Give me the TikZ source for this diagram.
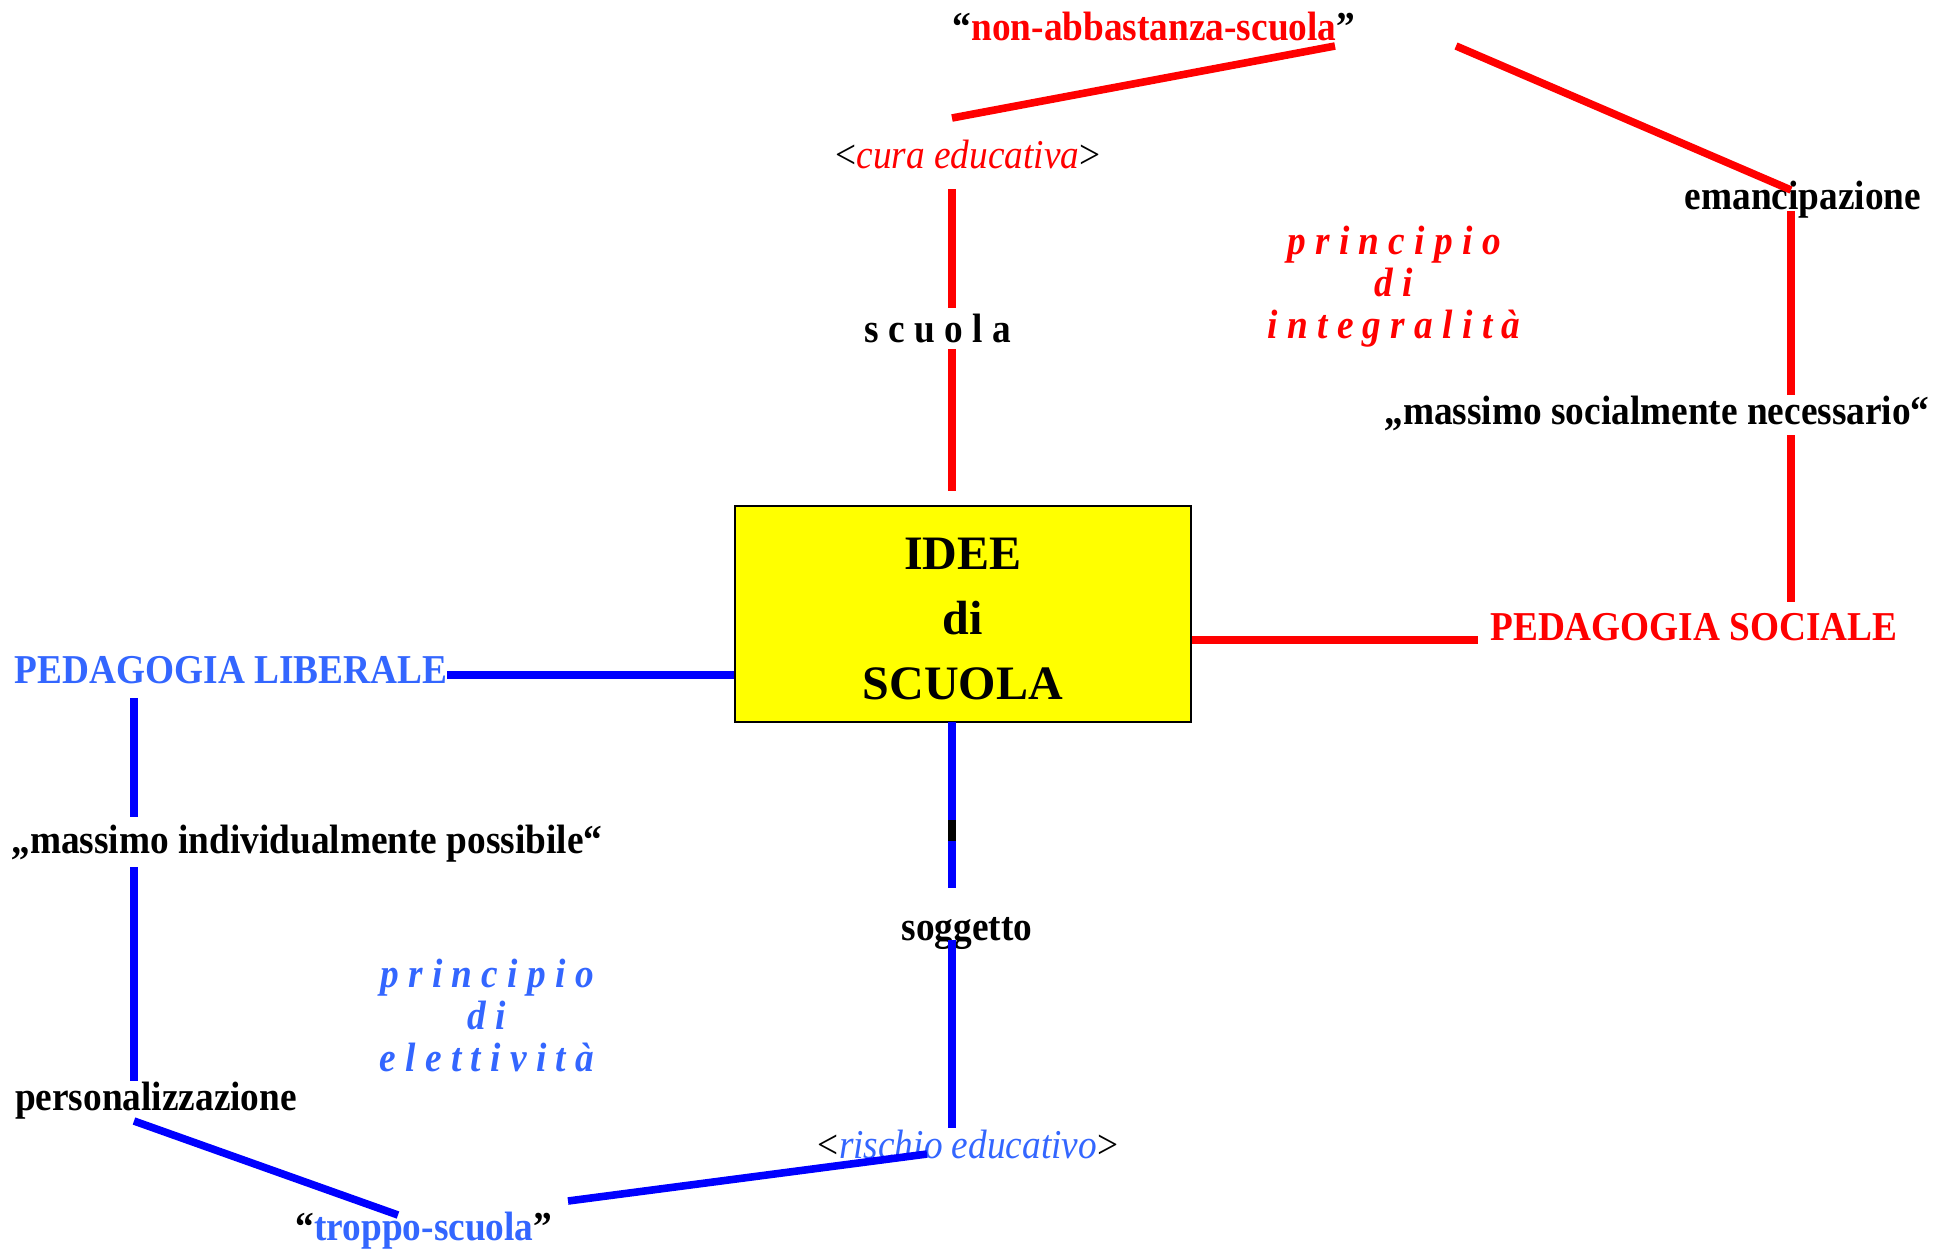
\documentclass[tikz,border=0pt]{standalone}
\usepackage{fontspec}
\setmainfont{Liberation Serif}[FakeStretch=0.91]
\newfontfamily\boxfont{Liberation Serif}
\definecolor{lblue}{RGB}{51,102,255}
\definecolor{pureyellow}{RGB}{255,255,0}
\begin{document}
\begin{tikzpicture}[x=0.5pt,y=-0.5pt,
  lbl/.style={inner sep=0pt, font=\fontsize{20.5}{24}\selectfont\bfseries},
  reglbl/.style={inner sep=0pt, font=\fontsize{20.5}{24}\selectfont},
  princ/.style={inner sep=0pt, align=center, font=\fontsize{20.5}{21}\selectfont\bfseries\itshape},
  mainbox/.style={draw=black, line width=0.8pt, fill=pureyellow, inner sep=0pt,
    minimum width=228pt, minimum height=108pt, align=center,
    font=\boxfont\fontsize{24}{32.5}\selectfont\bfseries},
  redline/.style={draw=red, line width=3.8pt},
  blueline/.style={draw=blue, line width=3.8pt}]
\useasboundingbox (0,0) rectangle (1948,1250);

% nodes
\node[lbl] (nonab) at (1154,27) {“\textcolor{red}{non-abbastanza-scuola}”};
\node[reglbl] (cura) at (968,155) {<\textcolor{red}{\itshape cura educativa}>};
\node[lbl] (scuola) at (938,329) {s c u o l a};
\node[mainbox] (box) at (963,614) {\raisebox{-3.5pt}[\height][\depth]{\begin{tabular}{@{}c@{}}IDEE\\di\\SCUOLA\end{tabular}}};
\node[lbl, text=red] (sociale) at (1694,627) {PEDAGOGIA SOCIALE};
\node[lbl] (emanc) at (1803,200) {emancipazione};
\node[lbl] (socnec) at (1657,413) {„massimo socialmente necessario“};
\node[princ, text=red] (integr) at (1394,287) {p r i n c i p i o\\d i\\i n t e g r a l i t à};
\node[lbl, text=lblue] (liberale) at (231,670) {PEDAGOGIA LIBERALE};
\node[lbl] (indpos) at (307,844) {„massimo individualmente possibile“};
\node[lbl] (person) at (156,1101) {personalizzazione};
\node[lbl] (troppo) at (424,1231) {“\textcolor{lblue}{troppo-scuola}”};
\node[reglbl] (rischio) at (968,1144) {<\textcolor{lblue}{\itshape rischio educativo}>};
\node[lbl] (sogg) at (967,933) {soggetto};
\node[princ, text=lblue] (elett) at (487,1015) {p r i n c i p i o\\d i\\e l e t t i v i t à};

% connector end points
\coordinate (curaN) at (952,118);
\coordinate (nonabS) at (1335,46);
\coordinate (nonabE) at (1456,46);
\coordinate (emancN) at (1791,190);
\coordinate (curaS) at (952,189);
\coordinate (scuolaN) at (952,308);
\coordinate (scuolaS) at (952,349);
\coordinate (boxN) at (952,491);
\coordinate (boxE) at (box.east |- 0,640);
\coordinate (socialeW) at (1478,640);
\coordinate (emancS) at (1791,211);
\coordinate (socnecN) at (1791,395);
\coordinate (socnecS) at (1791,435);
\coordinate (socialeN) at (1791,602);
\coordinate (liberaleE) at (447,675);
\coordinate (boxW) at (box.west |- 0,675);
\coordinate (liberaleS) at (134,698);
\coordinate (indposN) at (134,817);
\coordinate (indposS) at (134,867);
\coordinate (personN) at (134,1081);
\coordinate (personS) at (134,1121);
\coordinate (troppoN) at (398,1215);
\coordinate (troppoE) at (568,1201);
\coordinate (rischioW) at (927,1154);
\coordinate (boxS) at (952,722);
\coordinate (soggN) at (952,888);
\coordinate (markA) at (952,820);
\coordinate (markB) at (952,841);
\coordinate (soggS) at (952,940);
\coordinate (rischioN) at (952,1128);

% red connectors
\draw[redline] (curaN) -- (nonabS);
\draw[redline] (nonabE) -- (emancN);
\draw[redline] (curaS) -- (scuolaN);
\draw[redline] (scuolaS) -- (boxN);
\draw[redline] (boxE) -- (socialeW);
\draw[redline] (emancS) -- (socnecN);
\draw[redline] (socnecS) -- (socialeN);

% blue connectors
\draw[blueline] (liberaleE) -- (boxW);
\draw[blueline] (liberaleS) -- (indposN);
\draw[blueline] (indposS) -- (personN);
\draw[blueline] (personS) -- (troppoN);
\draw[blueline] (troppoE) -- (rischioW);
\draw[blueline] (boxS) -- (soggN);
\draw[draw=black, line width=3.8pt] (markA) -- (markB);
\draw[blueline] (soggS) -- (rischioN);
\end{tikzpicture}
\end{document}
